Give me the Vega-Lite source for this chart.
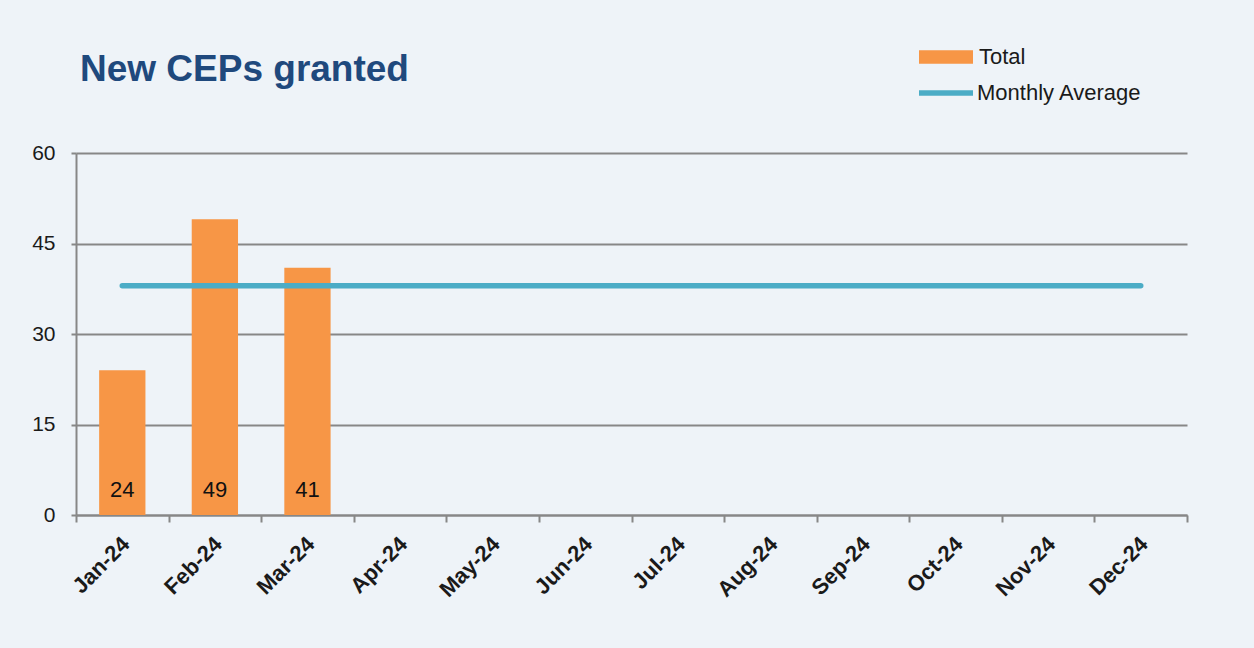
{
  "$schema": "https://vega.github.io/schema/vega-lite/v6.json",
  "autosize": {"type": "none"},
  "width": 1111,
  "height": 362,
  "padding": {"left": 76, "top": 153, "right": 67, "bottom": 133},
  "background": "#eef3f8",
  "config": {
    "view": {"stroke": null},
    "font": "Liberation Sans"
  },
  "title": {
    "text": "New CEPs granted",
    "anchor": "start",
    "frame": "group",
    "dx": 4,
    "dy": 88,
    "fontSize": 37,
    "fontWeight": "bold",
    "color": "#1f497d",
    "font": "Liberation Sans",
    "baseline": "alphabetic",
    "offset": 0
  },
  "data": {
    "values": [
      {"month": "Jan-24", "total": 24, "avg": 38},
      {"month": "Feb-24", "total": 49, "avg": 38},
      {"month": "Mar-24", "total": 41, "avg": 38},
      {"month": "Apr-24", "total": null, "avg": 38},
      {"month": "May-24", "total": null, "avg": 38},
      {"month": "Jun-24", "total": null, "avg": 38},
      {"month": "Jul-24", "total": null, "avg": 38},
      {"month": "Aug-24", "total": null, "avg": 38},
      {"month": "Sep-24", "total": null, "avg": 38},
      {"month": "Oct-24", "total": null, "avg": 38},
      {"month": "Nov-24", "total": null, "avg": 38},
      {"month": "Dec-24", "total": null, "avg": 38}
    ]
  },
  "encoding": {
    "x": {
      "field": "month",
      "type": "ordinal",
      "sort": null,
      "scale": {"paddingInner": 0, "paddingOuter": 0},
      "axis": {
        "title": null,
        "labelAngle": -45,
        "labelFontSize": 22,
        "labelFontWeight": "bold",
        "labelColor": "#1a1a1a",
        "labelFont": "Liberation Sans",
        "labelOffset": -4,
        "tickBand": "extent",
        "tickSize": 7,
        "tickWidth": 2,
        "tickColor": "#878787",
        "domainColor": "#878787",
        "domainWidth": 2,
        "labelPadding": 11,
        "grid": false
      }
    }
  },
  "layer": [
    {
      "mark": {"type": "bar", "color": "#f79646", "width": {"band": 0.5}},
      "encoding": {
        "y": {
          "field": "total",
          "type": "quantitative",
          "scale": {"domain": [0, 60], "nice": false},
          "axis": {
            "title": null,
            "values": [0, 15, 30, 45, 60],
            "labelFontSize": 21,
            "labelColor": "#1a1a1a",
            "labelFont": "Liberation Sans",
            "labelPadding": 16,
            "tickSize": 5,
            "tickWidth": 2,
            "tickColor": "#878787",
            "domainColor": "#878787",
            "domainWidth": 2,
            "gridColor": "#878787",
            "gridWidth": 2,
            "gridOpacity": 1
          }
        },
        "fill": {
          "datum": "Total",
          "scale": {"range": ["#f79646"]},
          "legend": {
            "title": null,
            "orient": "none",
            "legendX": 843,
            "legendY": -123,
            "padding": 0,
            "symbolType": "M-1,-0.25H1V0.25H-1Z",
            "symbolSize": 2916,
            "symbolStrokeWidth": 0,
            "labelFontSize": 22,
            "labelFont": "Liberation Sans",
            "labelColor": "#1a1a1a",
            "labelOffset": 6,
            "labelLimit": 400
          }
        }
      }
    },
    {
      "mark": {"type": "line", "strokeWidth": 5.5, "strokeCap": "round"},
      "encoding": {
        "y": {"field": "avg", "type": "quantitative"},
        "stroke": {
          "datum": "Monthly Average",
          "scale": {"range": ["#4bacc6"]},
          "legend": {
            "title": null,
            "orient": "none",
            "legendX": 840,
            "legendY": -90,
            "padding": 0,
            "symbolType": "stroke",
            "symbolSize": 2916,
            "symbolStrokeWidth": 5.5,
            "labelFontSize": 22,
            "labelFont": "Liberation Sans",
            "labelColor": "#1a1a1a",
            "labelOffset": 1,
            "labelLimit": 400
          }
        }
      }
    },
    {
      "transform": [{"filter": "datum.total != null"}],
      "mark": {"type": "text", "baseline": "middle", "dy": -25, "fontSize": 22, "font": "Liberation Sans", "color": "#111111"},
      "encoding": {
        "y": {"datum": 0},
        "text": {"field": "total", "type": "quantitative"}
      }
    }
  ]
}
